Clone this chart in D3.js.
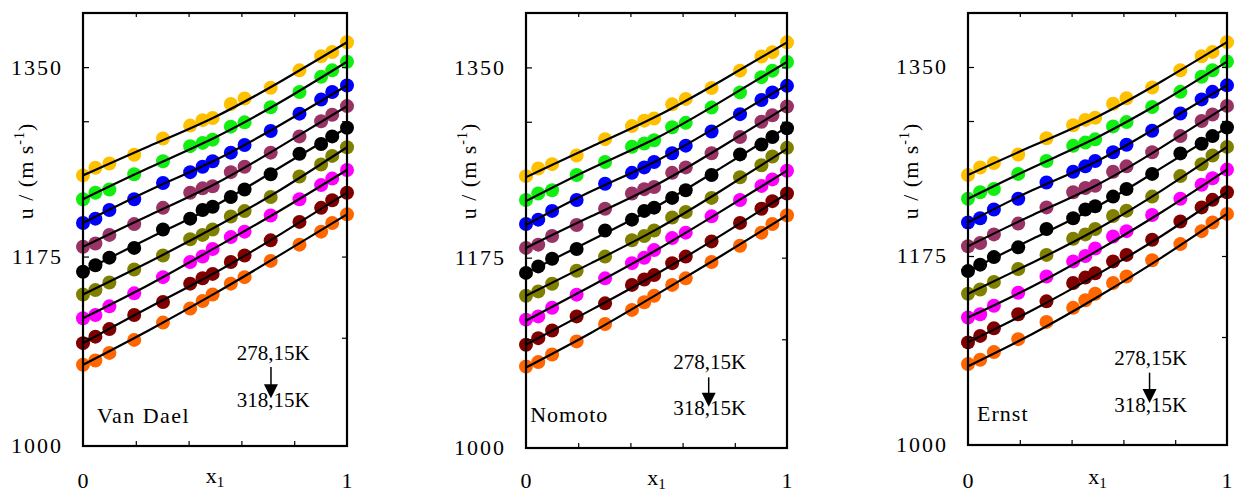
<!DOCTYPE html>
<html>
<head>
<meta charset="utf-8">
<script src="https://cdn.jsdelivr.net/npm/d3@7"></script>
<style>
  body { margin: 0; background: #fff; }
  svg text { font-family: "Liberation Serif", "Times New Roman", Times, serif; }
</style>
</head>
<body>
<div id="chart"></div>
<script>
// Composiciones (fracción molar x1), comunes a los tres paneles
const x1 = [0, 0.047, 0.1, 0.194, 0.303, 0.406, 0.453, 0.491, 0.56, 0.612, 0.711, 0.82, 0.902, 0.944, 1];

// Velocidad del sonido experimental u / (m s-1), de 278,15 K a 318,15 K
const u278 = [1250, 1257, 1261, 1269, 1284, 1296, 1301, 1303, 1316, 1321, 1331, 1347, 1360, 1364, 1373];
const u283 = [1228, 1234, 1237, 1251, 1263, 1277, 1280, 1283, 1295, 1299, 1313, 1327, 1341, 1347, 1355];
const u288 = [1206, 1210, 1218, 1228, 1243, 1253, 1258, 1263, 1271, 1278, 1291, 1307, 1320, 1327, 1333];
const u293 = [1184, 1187, 1195, 1205, 1220, 1234, 1238, 1240, 1253, 1258, 1271, 1286, 1300, 1306, 1314];
const u298 = [1161, 1167, 1174, 1183, 1200, 1210, 1218, 1221, 1230, 1237, 1251, 1270, 1279, 1286, 1294];
const u303 = [1140, 1144, 1151, 1163, 1176, 1191, 1195, 1200, 1212, 1217, 1230, 1249, 1260, 1268, 1276];
const u308 = [1118, 1121, 1129, 1141, 1156, 1170, 1175, 1182, 1193, 1198, 1213, 1228, 1241, 1247, 1255];
const u313 = [1095, 1101, 1108, 1121, 1133, 1150, 1155, 1159, 1170, 1176, 1190, 1207, 1220, 1227, 1234];
const u318 = [1075, 1079, 1086, 1098, 1114, 1127, 1134, 1140, 1150, 1156, 1171, 1186, 1198, 1206, 1214];
const uExp = [u278, u283, u288, u293, u298, u303, u308, u313, u318];

const xFit = [0, 0.25, 0.5, 0.75, 1];
const fitVanDael = [
  [1250, 1277, 1304, 1337, 1373],
  [1228, 1257, 1285, 1318, 1355],
  [1206, 1236, 1264, 1297, 1333],
  [1184, 1213, 1242, 1277, 1314],
  [1161, 1192, 1222, 1258, 1294],
  [1140, 1170, 1202, 1237, 1276],
  [1118, 1149, 1183, 1218, 1255],
  [1095, 1128, 1160, 1196, 1234],
  [1075, 1107, 1141, 1177, 1214]
];
const fitNomoto = [
  [1249, 1277, 1305, 1338, 1373],
  [1227, 1257, 1285, 1319, 1355],
  [1205, 1236, 1264, 1298, 1334],
  [1184, 1213, 1242, 1277, 1314],
  [1161, 1191, 1222, 1258, 1295],
  [1140, 1170, 1201, 1237, 1275],
  [1117, 1149, 1182, 1218, 1255],
  [1095, 1127, 1160, 1196, 1234],
  [1074, 1106, 1141, 1177, 1214]
];
const fitErnst = [
  [1250, 1277, 1304, 1337, 1373],
  [1228, 1257, 1285, 1318, 1355],
  [1206, 1236, 1263, 1297, 1333],
  [1184, 1213, 1241, 1276, 1314],
  [1161, 1191, 1221, 1257, 1294],
  [1140, 1169, 1200, 1236, 1276],
  [1118, 1147, 1180, 1216, 1255],
  [1095, 1125, 1158, 1194, 1234],
  [1073, 1103, 1137, 1174, 1214]
];

const modelNames = ["Van Dael", "Nomoto", "Ernst"];
const modelFits = [fitVanDael, fitNomoto, fitErnst];
const colors = ["#FFC000", "#11EE11", "#0000FF", "#993366", "#000000", "#808000", "#FF00FF", "#800000", "#FF6600"];

// Ejes
const yDomain = [1000, 1400];
const yTickLabels = [1000, 1175, 1350];
const yMinorTicks = [1100, 1175, 1300, 1350];
const xTickLabels = [0, 1];
const xMinorTicks = [0.2, 0.4, 0.6, 0.8];
const tempLabels = ["278,15K", "318,15K"];

// Posición de cada panel (píxeles) y de sus anotaciones
const panels = [
  { left: 83, right: 347, top: 13, bottom: 446, numDy: 42, x1Dy: 37,
    nameX: 0.053, nameU: 1021, tX: 0.582, tU: [1079, 1036], arrowX: 0.712, arrowU: [1073, 1044] },
  { left: 526, right: 787, top: 13, bottom: 448, numDy: 40, x1Dy: 37,
    nameX: 0.016, nameU: 1024, tX: 0.564, tU: [1073, 1030], arrowX: 0.70, arrowU: [1065, 1038] },
  { left: 968, right: 1227, top: 13, bottom: 445, numDy: 43, x1Dy: 39,
    nameX: 0.035, nameU: 1022, tX: 0.565, tU: [1074, 1031], arrowX: 0.701, arrowU: [1067, 1039] }
];

const svg = d3.select("#chart")
  .append("svg")
  .attr("width", 1236)
  .attr("height", 493)
  .attr("font-family", "Liberation Serif, Times New Roman, serif");

panels.forEach((p, k) => {
  const width = p.right - p.left;
  const height = p.bottom - p.top;
  const g = svg.append("g").attr("transform", `translate(${p.left}, ${p.top})`);

  const x = d3.scaleLinear().domain([0, 1]).range([0, width]);
  const y = d3.scaleLinear().domain(yDomain).range([height, 0]);

  // Puntos experimentales
  uExp.forEach((serie, i) => {
    g.append("g")
      .selectAll("circle")
      .data(serie)
      .enter()
      .append("circle")
      .attr("cx", (d, j) => x(x1[j]))
      .attr("cy", d => y(d))
      .attr("r", 7)
      .attr("fill", colors[i]);
  });

  // Curvas del modelo
  const line = d3.line()
    .x(d => x(d[0]))
    .y(d => y(d[1]))
    .curve(d3.curveNatural);
  modelFits[k].forEach(fit => {
    g.append("path")
      .datum(fit.map((v, j) => [xFit[j], v]))
      .attr("fill", "none")
      .attr("stroke", "#000")
      .attr("stroke-width", 2.2)
      .attr("d", line);
  });

  // Marcas interiores en los cuatro lados
  const ticks = [
    [d3.axisTop(x).tickValues(xMinorTicks).tickSize(5), `translate(0, ${height})`],
    [d3.axisBottom(x).tickValues(xMinorTicks).tickSize(4), "translate(0, 0)"],
    [d3.axisRight(y).tickValues(yMinorTicks).tickSize(6), "translate(0, 0)"],
    [d3.axisLeft(y).tickValues(yMinorTicks).tickSize(5), `translate(${width}, 0)`]
  ];
  ticks.forEach(([axis, tr]) => {
    const a = g.append("g").attr("transform", tr).call(axis.tickFormat(""));
    a.select(".domain").remove();
    a.selectAll("line").attr("stroke", "#000").attr("stroke-width", 1.2);
  });

  // Marco
  g.append("rect")
    .attr("width", width)
    .attr("height", height)
    .attr("fill", "none")
    .attr("stroke", "#000")
    .attr("stroke-width", 2.2);

  // Etiquetas del eje Y
  g.selectAll(".ylab")
    .data(yTickLabels)
    .enter()
    .append("text")
    .attr("x", -20)
    .attr("y", d => y(d))
    .attr("dy", "0.34em")
    .attr("text-anchor", "end")
    .attr("font-size", 22)
    .attr("letter-spacing", 2)
    .text(d => d);

  // Etiquetas del eje X
  g.selectAll(".xlab")
    .data(xTickLabels)
    .enter()
    .append("text")
    .attr("x", d => x(d))
    .attr("y", height + p.numDy)
    .attr("text-anchor", "middle")
    .attr("font-size", 22)
    .text(d => d);

  const xt = g.append("text")
    .attr("x", x(0.5))
    .attr("y", height + p.x1Dy)
    .attr("text-anchor", "middle")
    .attr("font-size", 22)
    .text("x");
  xt.append("tspan").attr("dy", 4).attr("font-size", 15).text("1");

  // Etiqueta del eje Y
  const yt = g.append("text")
    .attr("transform", `translate(-50, ${158}) rotate(-90)`)
    .attr("text-anchor", "middle")
    .attr("font-size", 22)
    .attr("letter-spacing", 1)
    .text("u / (m s");
  yt.append("tspan").attr("dy", -9).attr("font-size", 14).text("-1");
  yt.append("tspan").attr("dy", 9).text(")");

  // Nombre del modelo
  g.append("text")
    .attr("x", x(p.nameX))
    .attr("y", y(p.nameU))
    .attr("font-size", 22)
    .attr("letter-spacing", k === 0 ? 1.5 : 1)
    .text(modelNames[k]);

  // Anotación de temperaturas con flecha
  tempLabels.forEach((t, i) => {
    g.append("text")
      .attr("x", x(p.tX))
      .attr("y", y(p.tU[i]))
      .attr("font-size", 21)
      .text(t);
  });
  const ax = x(p.arrowX);
  const y0 = y(p.arrowU[0]);
  const y1 = y(p.arrowU[1]);
  g.append("line")
    .attr("x1", ax).attr("x2", ax)
    .attr("y1", y0).attr("y2", y1 - 12)
    .attr("stroke", "#000")
    .attr("stroke-width", 1.5);
  g.append("path")
    .attr("d", `M${ax - 7},${y1 - 14}L${ax + 7},${y1 - 14}L${ax},${y1}Z`)
    .attr("fill", "#000");
});
</script>
</body>
</html>
